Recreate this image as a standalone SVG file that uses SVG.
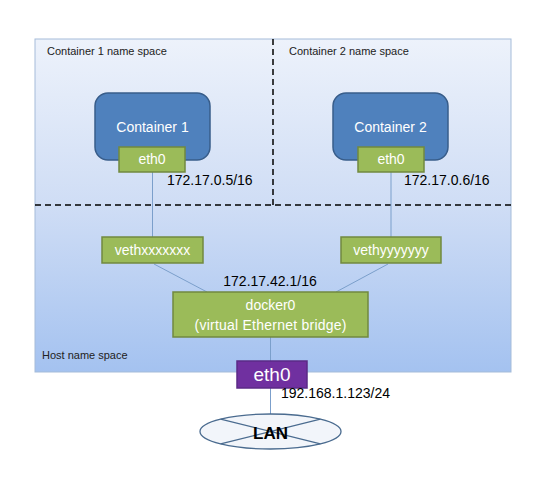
<svg xmlns="http://www.w3.org/2000/svg" width="544" height="480" viewBox="0 0 544 480">
<defs>
<linearGradient id="bg" x1="0" y1="0" x2="0" y2="1">
<stop offset="0" stop-color="#edf2fb"/>
<stop offset="0.5" stop-color="#cfddf5"/>
<stop offset="1" stop-color="#a4c2f0"/>
</linearGradient>
<style>
text{font-family:"Liberation Sans",Arial,sans-serif;}
.ns{font-size:11px;fill:#222;}
.ip{font-size:14px;fill:#000;}
.wt{font-size:14px;fill:#fff;text-anchor:middle;}
.cont{fill:#4f81bd;stroke:#385d8a;stroke-width:1.5;}
.green{fill:#9bbb59;stroke:#71893f;stroke-width:1.5;}
.conn{stroke:#7b9fcb;stroke-width:1;fill:none;}
.dash{stroke:#000;stroke-width:1.5;stroke-dasharray:6 4;fill:none;}
</style>
</defs>
<rect width="544" height="480" fill="#fff"/>
<g id="host-namespace">
<rect x="35" y="39" width="476" height="333" fill="url(#bg)" stroke="#a5bcd9" stroke-width="1"/>
<path class="dash" d="M273 39 V205 M35 205 H511"/>
<text class="ns" x="47" y="55">Container 1 name space</text>
<text class="ns" x="289" y="55">Container 2 name space</text>
<text class="ns" x="42" y="359">Host name space</text>
</g>
<g id="connectors">
<line class="conn" x1="152.5" y1="172" x2="152.5" y2="237"/>
<line class="conn" x1="391" y1="172" x2="391" y2="237"/>
<line class="conn" x1="154" y1="264" x2="207" y2="292"/>
<line class="conn" x1="388" y1="264" x2="336" y2="292"/>
<line class="conn" x1="270.5" y1="337" x2="270.5" y2="361"/>
<line class="conn" x1="270.5" y1="388" x2="270.5" y2="414"/>
</g>
<g id="container1">
<rect class="cont" x="95" y="93" width="115" height="67" rx="13"/>
<text class="wt" x="152.5" y="132">Container 1</text>
</g>
<g id="container1-eth0">
<rect class="green" x="119" y="147" width="66" height="25"/>
<text class="wt" x="152" y="164">eth0</text>
<text class="ip" x="167" y="185">172.17.0.5/16</text>
</g>
<g id="container2">
<rect class="cont" x="333" y="93" width="115" height="67" rx="13"/>
<text class="wt" x="390.5" y="132">Container 2</text>
</g>
<g id="container2-eth0">
<rect class="green" x="358" y="147" width="66" height="25"/>
<text class="wt" x="391" y="164">eth0</text>
<text class="ip" x="404" y="185">172.17.0.6/16</text>
</g>
<g id="vethx">
<rect class="green" x="102" y="237" width="101" height="26"/>
<text class="wt" x="152.5" y="255">vethxxxxxxx</text>
</g>
<g id="vethy">
<rect class="green" x="341" y="237" width="100" height="26"/>
<text class="wt" x="391" y="255">vethyyyyyyy</text>
</g>
<g id="docker0">
<text class="ip" x="270" y="286" text-anchor="middle">172.17.42.1/16</text>
<rect class="green" x="173" y="292" width="195" height="45"/>
<text class="wt" x="270.5" y="310">docker0</text>
<text class="wt" x="270.5" y="330" textLength="152">(virtual Ethernet bridge)</text>
</g>
<g id="host-eth0">
<rect x="237" y="361" width="70" height="27" fill="#7030a0" stroke="#5b2a86" stroke-width="1.5"/>
<text x="272" y="381" font-size="19" fill="#fff" text-anchor="middle">eth0</text>
<text class="ip" x="281" y="398">192.168.1.123/24</text>
</g>
<g id="lan">
<ellipse cx="270.5" cy="431.5" rx="70.5" ry="17.5" fill="#f2f5fa" stroke="#4a6b8f" stroke-width="1.3"/>
<path d="M220.6 419.1 L320.4 443.9 M320.4 419.1 L220.6 443.9" stroke="#4a6b8f" stroke-width="1.3" fill="none"/>
<text x="270.5" y="439" font-size="17" font-weight="bold" fill="#000" text-anchor="middle">LAN</text>
</g>
</svg>
